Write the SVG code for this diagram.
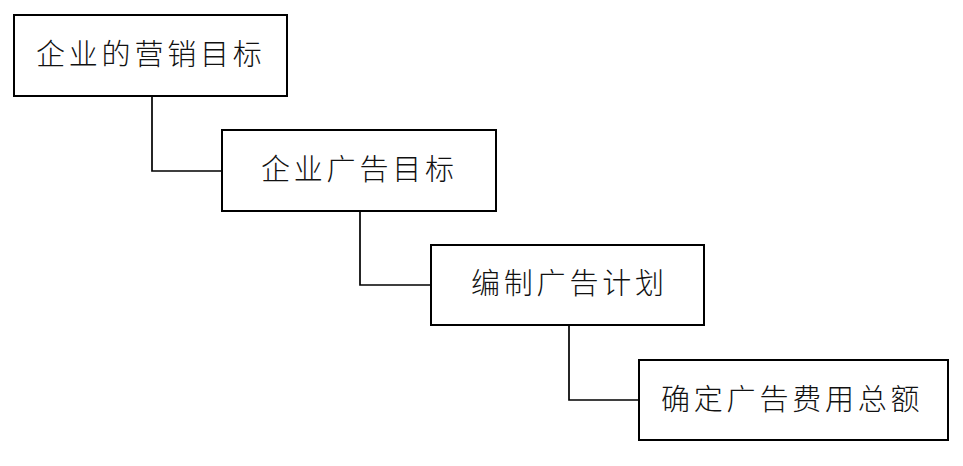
<svg xmlns="http://www.w3.org/2000/svg" width="963" height="466" viewBox="0 0 963 466">
<style>
.box{fill:#fff;stroke:#000;stroke-width:2}
.lbl{font-family:"Noto Sans CJK SC","Noto Sans CJK JP",sans-serif;font-size:29px;font-weight:300;letter-spacing:3.8px;fill:#111}
.con{fill:none;stroke:#000;stroke-width:1.7}
</style>
<rect width="963" height="466" fill="#fff"/>
<g id="connectors">
<polyline class="con" points="152,96 152,171 222,171"/>
<polyline class="con" points="360,211 360,285 431,285"/>
<polyline class="con" points="569,325 569,400 639,400"/>
</g>
<g id="n1"><rect class="box" x="14" y="15" width="273" height="81"/><text class="lbl" x="36" y="65">企业的营销目标</text></g>
<g id="n2"><rect class="box" x="222" y="130" width="274" height="81"/><text class="lbl" x="261" y="180">企业广告目标</text></g>
<g id="n3"><rect class="box" x="431" y="245" width="273" height="80"/><text class="lbl" x="471" y="294">编制广告计划</text></g>
<g id="n4"><rect class="box" x="639" y="360" width="309" height="80"/><text class="lbl" x="661" y="410">确定广告费用总额</text></g>
</svg>
